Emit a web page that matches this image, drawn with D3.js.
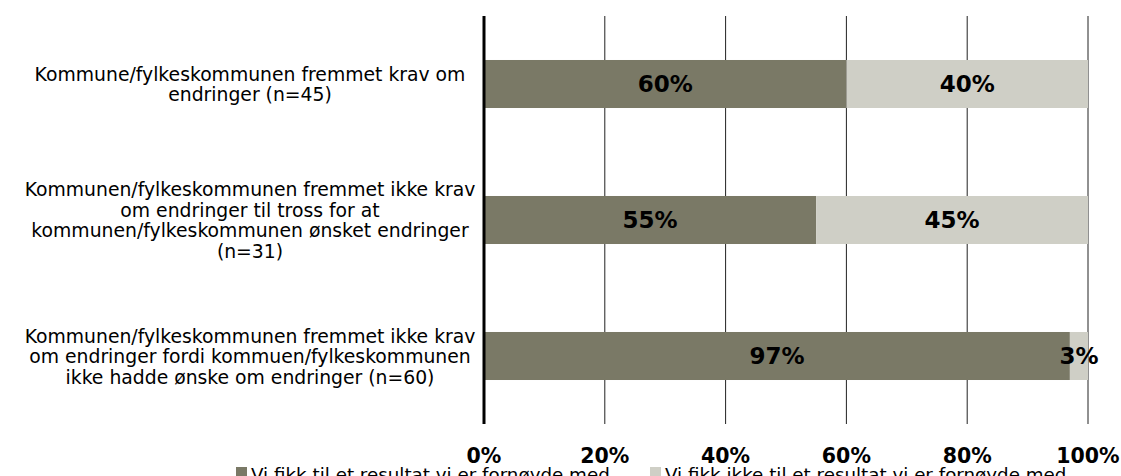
<!DOCTYPE html>
<html>
<head>
<meta charset="utf-8">
<script src="https://cdn.jsdelivr.net/npm/d3@7"></script>
<style>
body { margin: 0; background: #fff; }
text { font-family: "DejaVu Sans", Verdana, sans-serif; fill: #000; }
.cat { font-size: 18.8px; }
.tick-lab { font-size: 20.5px; font-weight: bold; }
.val { font-size: 23px; font-weight: bold; }
.leg { font-size: 18.3px; }
</style>
</head>
<body>
<script>
// categories (label lines) and series values in percent
var categories = [
  ["Kommune/fylkeskommunen fremmet krav om", "endringer (n=45)"],
  ["Kommunen/fylkeskommunen fremmet ikke krav", "om endringer til tross for at", "kommunen/fylkeskommunen ønsket endringer", "(n=31)"],
  ["Kommunen/fylkeskommunen fremmet ikke krav", "om endringer fordi kommuen/fylkeskommunen", "ikke hadde ønske om endringer (n=60)"]
];
var fornoyd = [60, 55, 97];
var ikkeFornoyd = [40, 45, 3];
var seriesNames = ["Vi fikk til et resultat vi er fornøyde med", "Vi fikk ikke til et resultat vi er fornøyde med"];
var tickValues = [0, 20, 40, 60, 80, 100];
var colors = ["#7a7966", "#cfcfc6"];

var width = 1121, height = 476;
var svg = d3.select("body").append("svg")
    .attr("width", width)
    .attr("height", height);

var x = d3.scaleLinear().domain([0, 100]).range([484, 1088]);
var y = d3.scaleBand().domain(d3.range(categories.length)).range([16, 424])
    .paddingInner(0.647).paddingOuter(0.3235);

// gridlines
svg.append("g").selectAll("line")
    .data(tickValues.slice(1))
  .enter().append("line")
    .attr("x1", d => x(d)).attr("x2", d => x(d))
    .attr("y1", 16).attr("y2", 424)
    .attr("stroke", "#222")
    .attr("stroke-width", 1);

// stacked bars
var stack = categories.map(function(c, i) {
  return [{s: 0, x0: 0, x1: fornoyd[i]}, {s: 1, x0: fornoyd[i], x1: fornoyd[i] + ikkeFornoyd[i]}];
});

var rows = svg.append("g").selectAll("g")
    .data(stack)
  .enter().append("g")
    .attr("transform", (d, i) => "translate(0," + y(i) + ")");

rows.selectAll("rect")
    .data(d => d)
  .enter().append("rect")
    .attr("x", d => x(d.x0))
    .attr("width", d => x(d.x1) - x(d.x0))
    .attr("height", y.bandwidth())
    .attr("fill", d => colors[d.s]);

rows.selectAll("text")
    .data(d => d)
  .enter().append("text")
    .attr("class", "val")
    .attr("x", d => (x(d.x0) + x(d.x1)) / 2)
    .attr("y", y.bandwidth() / 2)
    .attr("dy", "0.36em")
    .attr("text-anchor", "middle")
    .text(d => Math.round(d.x1 - d.x0) + "%");

// value axis at 0
svg.append("line")
    .attr("x1", x(0)).attr("x2", x(0))
    .attr("y1", 16).attr("y2", 424)
    .attr("stroke", "#000")
    .attr("stroke-width", 3);

// tick labels
svg.append("g").selectAll("text")
    .data(tickValues)
  .enter().append("text")
    .attr("class", "tick-lab")
    .attr("x", d => x(d))
    .attr("y", 463)
    .attr("text-anchor", "middle")
    .text(d => d + "%");

// category labels
var cat = svg.append("g").selectAll("text")
    .data(categories)
  .enter().append("text")
    .attr("class", "cat")
    .attr("text-anchor", "middle")
    .attr("x", 250)
    .attr("y", (d, i) => y(i) + y.bandwidth() / 2);

cat.each(function(lines) {
  var t = d3.select(this);
  var n = lines.length;
  lines.forEach(function(l, k) {
    t.append("tspan")
      .attr("x", 250)
      .attr("dy", k == 0 ? ((-(n - 1) / 2) * 20.5 + 7) + "px" : "20.5px")
      .text(l);
  });
});

// legend
var legX = [236, 650];
var leg = svg.append("g").selectAll("g")
    .data(seriesNames)
  .enter().append("g")
    .attr("transform", (d, i) => "translate(" + legX[i] + ",467)");
leg.append("rect")
    .attr("width", 11).attr("height", 11)
    .attr("fill", (d, i) => colors[i]);
leg.append("text")
    .attr("class", "leg")
    .attr("x", 15)
    .attr("y", 14)
    .text(d => d);
</script>
</body>
</html>
